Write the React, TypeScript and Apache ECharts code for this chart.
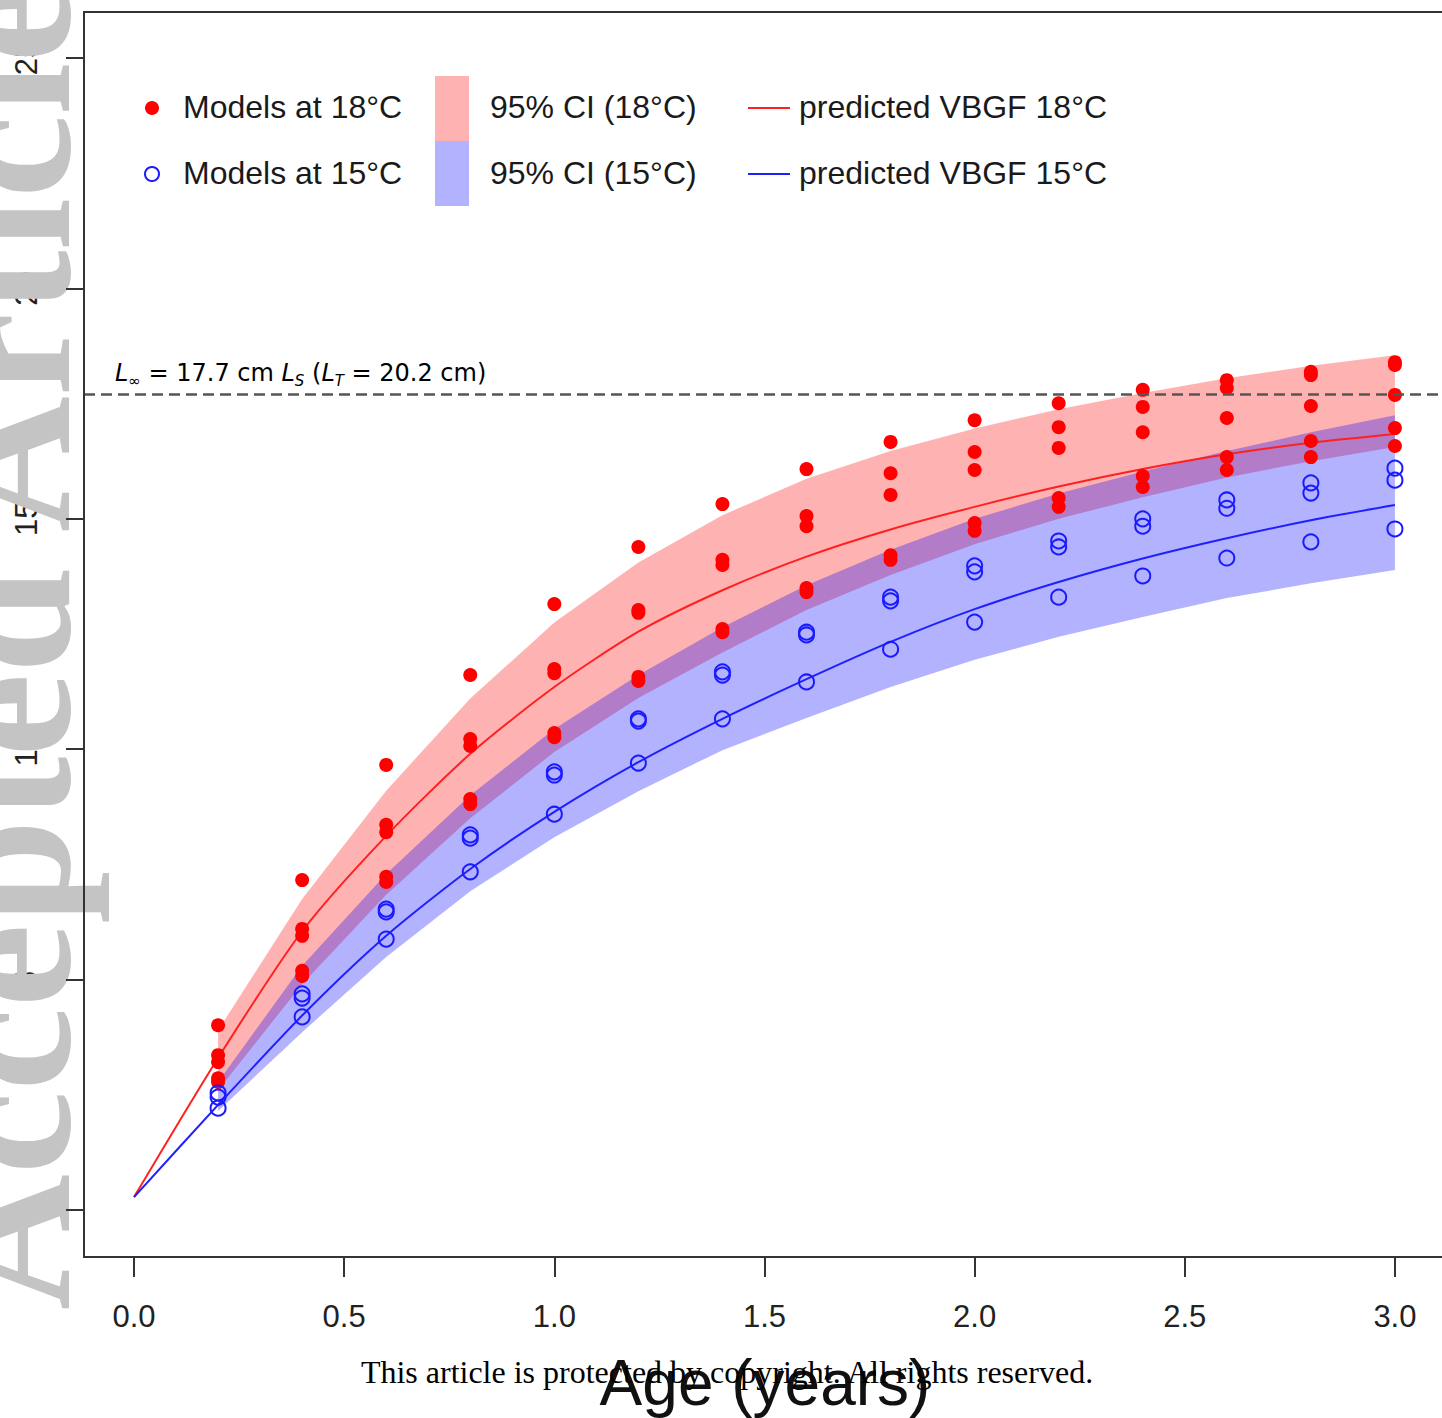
import React, { useEffect, useRef } from "react";
import * as echarts from "echarts";

// ---------- data ----------
const ages = [0.2, 0.4, 0.6, 0.8, 1.0, 1.2, 1.4, 1.6, 1.8, 2.0, 2.2, 2.4, 2.6, 2.8, 3.0];

const models18 = [
  [4.01, 3.36, 3.21, 2.86, 2.78],
  [7.16, 6.1, 5.95, 5.19, 5.08],
  [9.66, 8.36, 8.2, 7.23, 7.12],
  [11.61, 10.22, 10.07, 8.92, 8.81],
  [13.15, 11.74, 11.65, 10.35, 10.26],
  [14.39, 13.02, 12.96, 11.57, 11.48],
  [15.32, 14.11, 14.0, 12.61, 12.54],
  [16.08, 15.06, 14.84, 13.5, 13.41],
  [16.67, 15.99, 15.52, 14.21, 14.11],
  [17.14, 16.45, 16.06, 14.91, 14.74],
  [17.51, 16.99, 16.54, 15.45, 15.26],
  [17.8, 17.43, 16.88, 15.93, 15.69],
  [18.01, 17.84, 17.19, 16.34, 16.06],
  [18.19, 18.12, 17.45, 16.69, 16.34],
  [18.4, 18.34, 17.69, 16.97, 16.58],
];

const models15 = [
  [2.54, 2.45, 2.21],
  [4.69, 4.6, 4.19],
  [6.53, 6.47, 5.88],
  [8.14, 8.07, 7.34],
  [9.51, 9.44, 8.59],
  [10.66, 10.61, 9.7],
  [11.68, 11.61, 10.66],
  [12.54, 12.48, 11.46],
  [13.3, 13.22, 12.17],
  [13.98, 13.85, 12.76],
  [14.52, 14.39, 13.3],
  [15.0, 14.84, 13.76],
  [15.41, 15.23, 14.15],
  [15.78, 15.56, 14.5],
  [16.1, 15.84, 14.78],
];

const curveAges = [0, 0.2, 0.4, 0.6, 0.8, 1.0, 1.2, 1.4, 1.6, 1.8, 2.0, 2.2, 2.4, 2.6, 2.8, 3.0];
const vbgf18 = [0.28, 3.3, 6.05, 8.12, 9.9, 11.35, 12.55, 13.45, 14.18, 14.77, 15.26, 15.7, 16.08, 16.4, 16.65, 16.84];
const vbgf15 = [0.28, 2.28, 4.22, 5.95, 7.4, 8.64, 9.72, 10.66, 11.52, 12.33, 13.04, 13.63, 14.14, 14.58, 14.97, 15.3];

const ci18Upper = [3.9, 6.75, 9.1, 11.1, 12.75, 14.05, 15.08, 15.87, 16.47, 16.96, 17.38, 17.73, 18.05, 18.32, 18.55];
const ci18Lower = [2.6, 4.9, 6.84, 8.5, 9.94, 11.11, 12.1, 13.02, 13.78, 14.45, 15.0, 15.47, 15.9, 16.25, 16.56];
const ci15Upper = [2.78, 5.3, 7.29, 9.0, 10.44, 11.61, 12.65, 13.56, 14.33, 15.0, 15.55, 16.03, 16.47, 16.88, 17.25];
const ci15Lower = [2.15, 3.86, 5.49, 6.92, 8.09, 9.09, 9.98, 10.68, 11.35, 11.94, 12.44, 12.87, 13.28, 13.6, 13.89];

const lInf = 17.7;
const xTicks = [0, 0.5, 1.0, 1.5, 2.0, 2.5, 3.0];
const yTicks = [0, 5, 10, 15, 20, 25];

// ---------- styling ----------
const SANS = '"Liberation Sans", Arial, Helvetica, sans-serif';
const SERIF = '"Liberation Serif", "Times New Roman", serif';
const DEJAVU = '"DejaVu Sans", Verdana, sans-serif';
const RED_FILL = "rgba(255,0,0,0.3)";
const BLUE_FILL = "rgba(0,0,255,0.3)";
const AXIS_COLOR = "#333";

const X_MIN = -0.119;
const X_MAX = 3.112;
const Y_MIN = -1.02;
const Y_MAX = 26.0;

function bandSeries(upper: number[], lower: number[], fill: string, name: string) {
  return {
    type: "custom",
    name,
    silent: true,
    z: 1,
    data: [[ages[0], upper[0]]],
    encode: { x: 0, y: 1 },
    renderItem: (_params: any, api: any) => {
      const top = ages.map((a, i) => api.coord([a, upper[i]]));
      const bot = ages.map((a, i) => api.coord([a, lower[i]])).reverse();
      return {
        type: "polygon",
        shape: { points: top.concat(bot) },
        style: { fill },
      };
    },
  };
}

function buildOption() {
  const pts18: number[][] = [];
  ages.forEach((a, i) => models18[i].forEach((v) => pts18.push([a, v])));
  const pts15: number[][] = [];
  ages.forEach((a, i) => models15[i].forEach((v) => pts15.push([a, v])));

  const legendFont = `32px ${SANS}`;

  return {
    animation: false,
    backgroundColor: "#fff",
    grid: {
      left: 84,
      top: 12,
      right: 0,
      bottom: 161,
      containLabel: false,
      outerBoundsMode: "none",
    },
    xAxis: [
      {
        type: "value",
        min: X_MIN,
        max: X_MAX,
        position: "bottom",
        splitLine: { show: false },
        axisLine: { show: true, onZero: false, lineStyle: { color: AXIS_COLOR, width: 2 } },
        axisTick: {
          show: true,
          length: 20,
          customValues: xTicks,
          lineStyle: { color: AXIS_COLOR, width: 2 },
        },
        axisLabel: {
          show: true,
          customValues: xTicks,
          margin: 44,
          fontSize: 31,
          fontFamily: SANS,
          color: "#222",
          formatter: (v: number) => v.toFixed(1),
        },
      },
      {
        type: "value",
        min: X_MIN,
        max: X_MAX,
        position: "top",
        splitLine: { show: false },
        axisLine: { show: true, onZero: false, lineStyle: { color: AXIS_COLOR, width: 2 } },
        axisTick: { show: false },
        axisLabel: { show: false },
      },
    ],
    yAxis: [
      {
        type: "value",
        min: Y_MIN,
        max: Y_MAX,
        position: "left",
        z: 0,
        splitLine: { show: false },
        axisLine: { show: false },
        axisTick: { show: false },
        axisLabel: {
          show: true,
          customValues: yTicks,
          rotate: 90,
          margin: 42,
          fontSize: 31,
          fontFamily: SANS,
          color: "#222",
        },
      },
      {
        type: "value",
        min: Y_MIN,
        max: Y_MAX,
        position: "left",
        z: 5,
        splitLine: { show: false },
        axisLine: { show: true, onZero: false, lineStyle: { color: AXIS_COLOR, width: 2 } },
        axisTick: {
          show: true,
          length: 18,
          customValues: yTicks,
          lineStyle: { color: AXIS_COLOR, width: 2 },
        },
        axisLabel: { show: false },
      },
    ],
    series: [
      bandSeries(ci18Upper, ci18Lower, RED_FILL, "95% CI (18°C)"),
      bandSeries(ci15Upper, ci15Lower, BLUE_FILL, "95% CI (15°C)"),
      {
        type: "line",
        name: "predicted VBGF 18°C",
        z: 3,
        data: curveAges.map((a, i) => [a, vbgf18[i]]),
        showSymbol: false,
        smooth: 0.25,
        lineStyle: { color: "#ff2020", width: 2 },
        silent: true,
        markLine: {
          silent: true,
          symbol: ["none", "none"],
          label: { show: false },
          lineStyle: { color: "#555", width: 2.5, type: [11, 6] },
          data: [{ yAxis: lInf }],
        },
      },
      {
        type: "line",
        name: "predicted VBGF 15°C",
        z: 3,
        data: curveAges.map((a, i) => [a, vbgf15[i]]),
        showSymbol: false,
        smooth: 0.25,
        lineStyle: { color: "#2020ff", width: 2 },
        silent: true,
      },
      {
        type: "scatter",
        name: "Models at 18°C",
        z: 4,
        data: pts18,
        symbol: "circle",
        symbolSize: 14,
        itemStyle: { color: "#ff0000", opacity: 1 },
      },
      {
        type: "scatter",
        name: "Models at 15°C",
        z: 4,
        data: pts15,
        symbol: "circle",
        symbolSize: 15,
        itemStyle: { color: "rgba(0,0,0,0)", borderColor: "#1a1aff", borderWidth: 2, opacity: 1 },
      },
    ],
    graphic: {
      elements: [
        // watermark
        {
          type: "text",
          z: 3,
          x: 5,
          y: 1310,
          rotation: Math.PI / 2,
          silent: true,
          style: {
            text: "Accepted Article",
            font: `bold 188px ${SERIF}`,
            fill: "#c4c4c4",
            align: "left",
            verticalAlign: "middle",
          },
        },
        // legend: points
        { type: "circle", z: 10, shape: { cx: 152, cy: 108, r: 7 }, style: { fill: "#ff0000" } },
        {
          type: "circle",
          z: 10,
          shape: { cx: 152, cy: 174, r: 7 },
          style: { fill: "none", stroke: "#1a1aff", lineWidth: 2 },
        },
        {
          type: "text",
          z: 10,
          x: 183,
          y: 107,
          style: { text: "Models at 18°C", font: legendFont, fill: "#1a1a1a", verticalAlign: "middle" },
        },
        {
          type: "text",
          z: 10,
          x: 183,
          y: 173,
          style: { text: "Models at 15°C", font: legendFont, fill: "#1a1a1a", verticalAlign: "middle" },
        },
        // legend: CI patches
        { type: "rect", z: 10, shape: { x: 435, y: 76, width: 34, height: 65 }, style: { fill: RED_FILL } },
        { type: "rect", z: 10, shape: { x: 435, y: 141, width: 34, height: 65 }, style: { fill: BLUE_FILL } },
        {
          type: "text",
          z: 10,
          x: 490,
          y: 107,
          style: { text: "95% CI (18°C)", font: legendFont, fill: "#1a1a1a", verticalAlign: "middle" },
        },
        {
          type: "text",
          z: 10,
          x: 490,
          y: 173,
          style: { text: "95% CI (15°C)", font: legendFont, fill: "#1a1a1a", verticalAlign: "middle" },
        },
        // legend: lines
        {
          type: "line",
          z: 10,
          shape: { x1: 748, y1: 108, x2: 790, y2: 108 },
          style: { stroke: "#ff2020", lineWidth: 2 },
        },
        {
          type: "line",
          z: 10,
          shape: { x1: 748, y1: 174, x2: 790, y2: 174 },
          style: { stroke: "#2020ff", lineWidth: 2 },
        },
        {
          type: "text",
          z: 10,
          x: 799,
          y: 107,
          style: { text: "predicted VBGF 18°C", font: legendFont, fill: "#1a1a1a", verticalAlign: "middle" },
        },
        {
          type: "text",
          z: 10,
          x: 799,
          y: 173,
          style: { text: "predicted VBGF 15°C", font: legendFont, fill: "#1a1a1a", verticalAlign: "middle" },
        },
        // L-infinity annotation
        {
          type: "text",
          z: 10,
          x: 115,
          y: 373,
          style: {
            text: "{i|L}{s|∞}{n| = 17.7 cm }{i|L}{si|S}{n| (}{i|L}{si|T}{n| = 20.2 cm)}",
            verticalAlign: "middle",
            rich: {
              n: { fontFamily: DEJAVU, fontSize: 24, lineHeight: 30, fill: "#000", verticalAlign: "middle" },
              i: {
                fontFamily: DEJAVU,
                fontSize: 24,
                fontStyle: "italic",
                lineHeight: 30,
                fill: "#000",
                verticalAlign: "middle",
              },
              s: { fontFamily: DEJAVU, fontSize: 15, lineHeight: 15, fill: "#000", verticalAlign: "bottom" },
              si: {
                fontFamily: DEJAVU,
                fontSize: 15,
                fontStyle: "italic",
                lineHeight: 15,
                fill: "#000",
                verticalAlign: "bottom",
              },
            },
          },
        },
        // axis title
        {
          type: "text",
          z: 10,
          x: 765,
          y: 1383,
          style: {
            text: "Age (years)",
            font: `64px ${SANS}`,
            fill: "#111",
            align: "center",
            verticalAlign: "middle",
          },
        },
        // footer
        {
          type: "text",
          z: 11,
          x: 727,
          y: 1372,
          style: {
            text: "This article is protected by copyright. All rights reserved.",
            font: `32px ${SERIF}`,
            fill: "#000",
            align: "center",
            verticalAlign: "middle",
          },
        },
      ],
    },
  };
}

export default function App() {
  const ref = useRef<HTMLDivElement>(null);
  useEffect(() => {
    if (!ref.current) return;
    const chart = echarts.init(ref.current, null, { renderer: "svg" });
    chart.setOption(buildOption() as any);
    return () => chart.dispose();
  }, []);
  return (
    <div
      ref={ref}
      style={{ position: "fixed", left: 0, top: 0, width: 1442, height: 1418, background: "#fff" }}
    />
  );
}
